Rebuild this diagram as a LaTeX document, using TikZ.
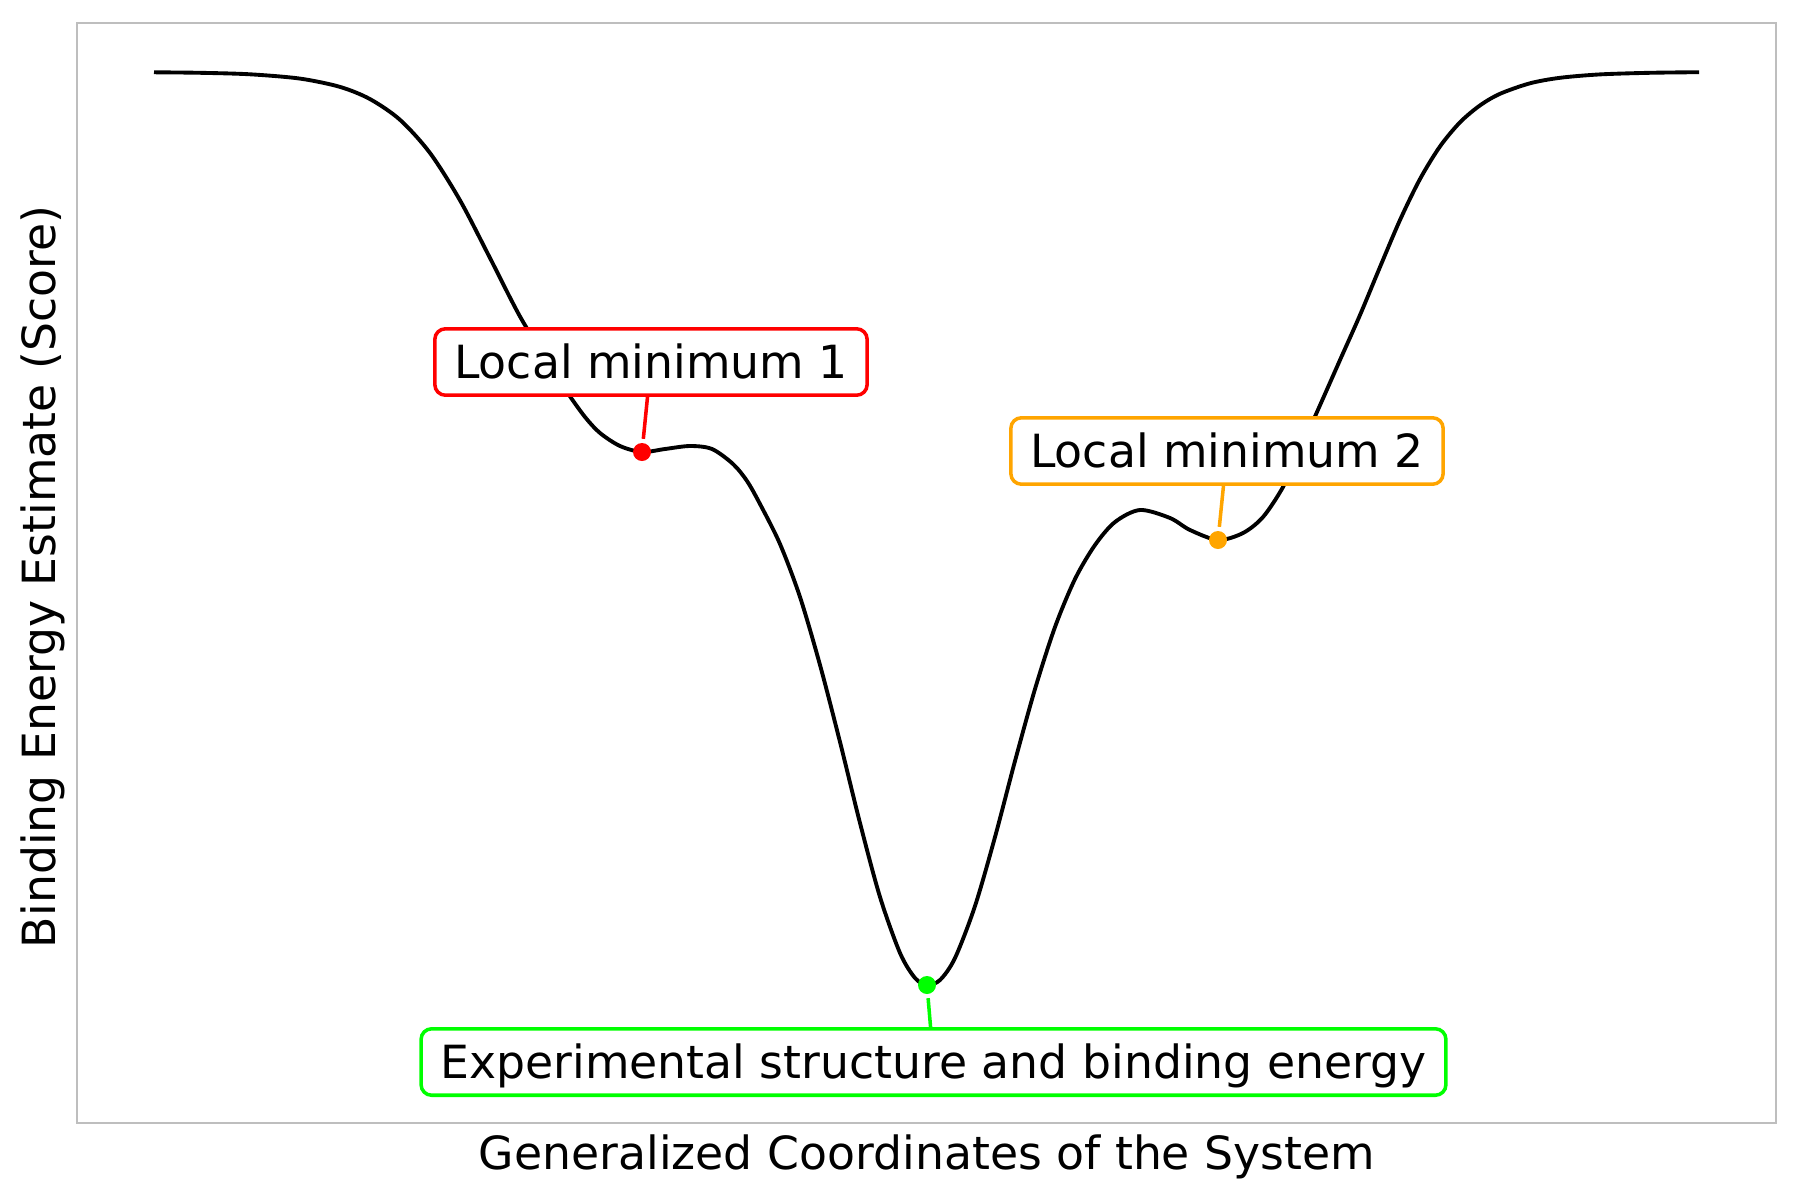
\documentclass[tikz,border=0pt]{standalone}
\usepackage{fontspec}
\setmainfont{DejaVu Sans}
\definecolor{minred}{RGB}{255,0,0}
\definecolor{minorange}{RGB}{255,165,0}
\definecolor{mingreen}{RGB}{0,255,0}
\definecolor{spinegray}{RGB}{190,190,190}
\tikzset{
	minbox/.style={draw=#1,fill=white,line width=1pt,rounded corners=3pt,inner xsep=5.5pt,inner ysep=4.7pt,text height=9.5pt,text depth=0pt},
	mindot/.style={circle,fill=#1,inner sep=0pt,minimum size=0.18cm},
	leader/.style={draw=#1,line width=1pt,shorten >=1pt},
	landscape/.style={black,line width=1.1pt,line join=round}
}
\begin{document}
\begin{tikzpicture}[x=0.01cm,y=-0.01cm,font=\fontsize{13pt}{15.6pt}\selectfont]
		\useasboundingbox (0,0) rectangle (1800,1200);
		
		\draw[spinegray,line width=0.7pt] (77,23) rectangle (1776,1123);
		
		\node[rotate=90] (ylabel) at (43,577) {Binding Energy Estimate (Score)};
		\node (xlabel) at (927,1157) {Generalized Coordinates of the System};
		
		% energy landscape
		\draw[landscape] plot[smooth,tension=0.5] coordinates {
			(154,72.3) (200,72.8) (250,74.3) (300,78.6) (340,86.9) (370,99.1) (400,119.8) (430,153)
			(460,200.3) (490,258) (520,316.5) (550,365.4) (567,392) (585,417) (600,433) (620,446)
			(642,452) (665,449) (690,446) (712,449) (733,464) (747,481) (760,504) (780,544)
			(800,597) (820,665) (840,742) (860,823) (880,897) (900,953) (915,978) (927,985)
			(940,980) (955,958) (975,906) (995,837) (1015,761) (1035,689) (1055,627) (1075,579)
			(1095,545) (1115,522) (1140,510) (1170,518) (1190,530) (1218,540) (1243,533) (1263,517)
			(1283,487) (1300,450) (1317,412) (1340,360) (1360,315) (1380,267) (1400,220) (1420,179)
			(1440,146.4) (1460,122.3) (1480,105.4) (1500,93.8) (1530,83.3) (1560,77.8) (1600,74.4) (1650,72.8)
			(1699,72.2)};
		
		\node[minbox=minred] (box1) at (651,362) {Local minimum 1};
		\node[minbox=minorange] (box2) at (1227,451) {Local minimum 2};
		\node[minbox=mingreen] (boxexp) at (933.5,1062) {Experimental structure and binding energy};
		
		\node[mindot=minred] (min1) at (642,452) {};
		\node[mindot=minorange] (min2) at (1218,540) {};
		\node[mindot=mingreen] (minexp) at (927,985) {};
		
		\draw[leader=minred] (box1) -- (min1);
		\draw[leader=minorange] (box2) -- (min2);
		\draw[leader=mingreen] (boxexp) -- (minexp);
	\end{tikzpicture}
\end{document}
